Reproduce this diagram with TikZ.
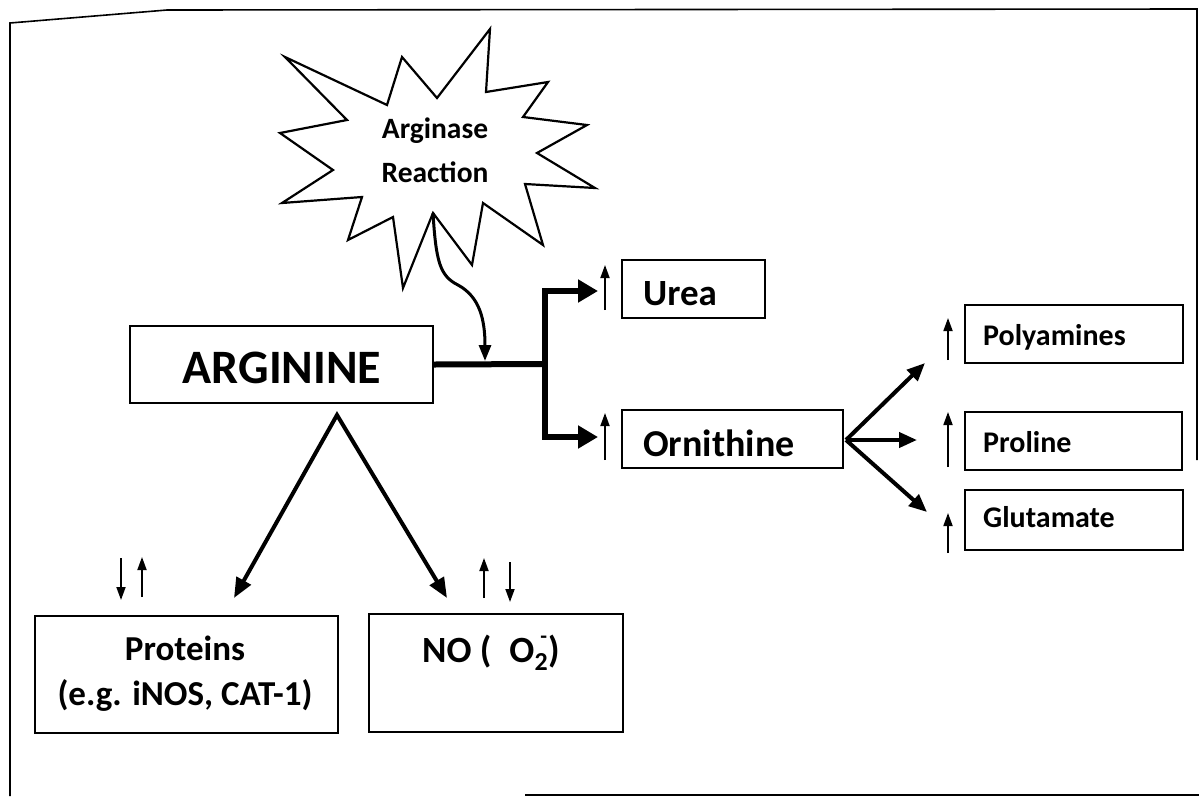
\documentclass[tikz,border=0pt]{standalone}
\usepackage{fontspec}
\setmainfont{Carlito}
\usetikzlibrary{arrows.meta}
\tikzset{
  box/.style={draw, line width=1.6pt, inner sep=0pt},
  lbl/.style={inner sep=0pt, anchor=base, font=\bfseries},
  lblw/.style={inner sep=0pt, anchor=base west, font=\bfseries},
  frame/.style={line width=1.6pt},
  bar/.style={line width=6pt},
  bararrow/.style={line width=6pt, -{Triangle[length=20pt,width=22pt]}},
  fork/.style={line width=4pt, -{Triangle[length=18pt,width=15pt]}},
  downboth/.style={line width=4pt, line join=miter, {Triangle[length=20pt,width=16pt]}-{Triangle[length=20pt,width=16pt]}},
  curvy/.style={line width=3pt, -{Triangle[length=16pt,width=12pt]}},
  tiny/.style={line width=1.8pt, -{Triangle[length=13pt,width=9pt]}},
}
\begin{document}
\begin{tikzpicture}[x=1pt,y=-1pt]
\useasboundingbox (0,0) rectangle (1199,796);
% outer frame
\draw[frame] (10,796) -- (10,23) -- (167,10) -- (1197,9) -- (1197,460);
\draw[frame] (525,795) -- (1199,795);
% starburst
\draw[line width=2.2pt, line join=miter] (285,57) -- (387,105) -- (402,57) -- (437,98) -- (490,29) -- (486,92) -- (548,82) -- (523,117) -- (587,125) -- (537,153) -- (595,188) -- (525,184) -- (543,245) -- (483,203) -- (472,265) -- (433,213) -- (403,288) -- (393,217) -- (348,240) -- (362,197) -- (282,203) -- (333,170) -- (280,133) -- (347,120) -- cycle;
\node[lbl, font=\bfseries\fontsize{29.5}{34}\selectfont] (arg1) at (435,138) {Arginase};
\node[lbl, font=\bfseries\fontsize{29.5}{34}\selectfont] (arg2) at (435,182) {Reaction};
\coordinate (starfoot) at (433,213);
% boxes
\node[box, minimum width=303pt, minimum height=77pt] (argbox) at (281.5,364.5) {};
\node[lbl, font=\bfseries\fontsize{48}{56}\selectfont] (argtext) at (282,383) {ARGININE};
\node[box, minimum width=143pt, minimum height=58pt] (urea) at (693.5,289) {};
\node[lblw, font=\bfseries\fontsize{37}{44}\selectfont] (ureatext) at (643,305) {Urea};
\node[box, minimum width=221pt, minimum height=58pt] (orn) at (732.5,439) {};
\node[lblw, font=\bfseries\fontsize{38}{44}\selectfont] (orntext) at (643,456) {Ornithine};
\node[box, minimum width=218pt, minimum height=58pt] (poly) at (1074,334) {};
\node[lblw, font=\bfseries\fontsize{30}{36}\selectfont] (polytext) at (983,345) {Polyamines};
\node[box, minimum width=217pt, minimum height=58pt] (prol) at (1073.5,441) {};
\node[lblw, font=\bfseries\fontsize{30}{36}\selectfont] (proltext) at (983,452) {Proline};
\node[box, minimum width=218pt, minimum height=60pt] (glu) at (1074,520) {};
\node[lblw, font=\bfseries\fontsize{30}{36}\selectfont] (glutext) at (983,527) {Glutamate};
\node[box, minimum width=303pt, minimum height=117pt] (prot) at (186.5,674.5) {};
\node[lbl, font=\bfseries\fontsize{35}{42}\selectfont] (prottext1) at (185,660) {Proteins};
\node[lbl, font=\bfseries\fontsize{35}{42}\selectfont] (prottext2) at (185,705) {(e.g. iNOS, CAT-1)};
\node[box, minimum width=254pt, minimum height=118pt] (no) at (496,673) {};
\node[lblw, font=\bfseries\fontsize{37}{42}\selectfont] (notext) at (422,662) {NO (\hspace{18pt}O\textsubscript{2}\llap{\raisebox{0.5em}{\fontsize{22}{22}\selectfont -}\hspace{1pt}})};
% connectors
\coordinate (join) at (485,361);
\coordinate (branch) at (545,364);
\coordinate (ut) at (598,291);
\coordinate (ot) at (598,437);
\draw[bar] (argbox.east) -- (branch);
\draw[bararrow, line join=miter] (branch) |- (ut);
\draw[bararrow, line join=miter] (branch) |- (ot);
\draw[curvy] (starfoot) .. controls (436,262) and (440,276) .. (458,285) .. controls (480,297) and (485,320) .. (join);
% fork from ornithine
\coordinate (fk) at (846,440);
\coordinate (fpoly) at (925,363);
\coordinate (fprol) at (917,440);
\coordinate (fglu) at (927,512);
\draw[fork] (fk) -- (fpoly);
\draw[fork] (fk) -- (fprol);
\draw[fork] (fk) -- (fglu);
% from arginine down
\coordinate (apex) at (337,415);
\coordinate (tprot) at (234,598);
\coordinate (tno) at (447,598);
\draw[downboth] (tprot) -- (apex) -- (tno);
% small trend arrows
\draw[tiny] (605,310) -- (605,265);
\draw[tiny] (605,460) -- (605,413);
\draw[tiny] (948,360) -- (948,318);
\draw[tiny] (948,467) -- (948,412);
\draw[tiny] (948,553) -- (948,513);
\draw[tiny] (121,558) -- (121,600);
\draw[tiny] (142,597) -- (142,557);
\draw[tiny] (484,598) -- (484,558);
\draw[tiny] (510,562) -- (510,602);
\end{tikzpicture}
\end{document}
